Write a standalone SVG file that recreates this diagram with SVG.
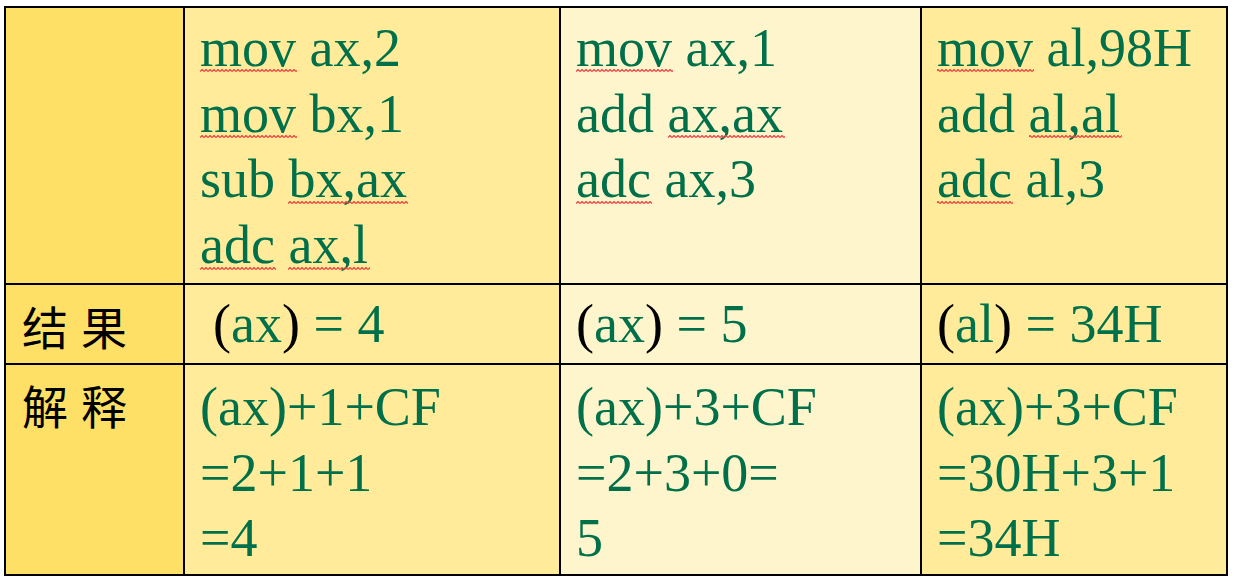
<svg xmlns="http://www.w3.org/2000/svg" width="1234" height="582" viewBox="0 0 1234 582">
<style>
.code{font-family:"Liberation Serif","Times New Roman",serif;font-size:54px;fill:#00704A}
.blk{fill:#000}
.cjk{font-family:"Noto Sans CJK SC","Noto Sans CJK JP",sans-serif;font-size:46px;fill:#000;letter-spacing:13px}
.grid{stroke:#000;stroke-width:2;fill:none}
.wv{fill:url(#wave)}
</style>
<defs>
<pattern id="wave" width="4" height="3" patternUnits="userSpaceOnUse">
<path d="M0,2.5 L2,0.5 L4,2.5" fill="none" stroke="#F03A40" stroke-width="1.2"/>
</pattern>
</defs>
<rect width="1234" height="582" fill="#fff"/>
<g id="cells">
<rect x="5" y="7" width="179" height="569" fill="#FFE066"/>
<rect x="184" y="7" width="376" height="569" fill="#FFEB99"/>
<rect x="560" y="7" width="361" height="569" fill="#FFF5CC"/>
<rect x="921" y="7" width="307" height="569" fill="#FFEB99"/>
</g>
<g id="grid">
<rect class="grid" x="5" y="7" width="1222" height="568" stroke-width="3"/>
<line class="grid" x1="184" y1="7" x2="184" y2="575"/>
<line class="grid" x1="560" y1="7" x2="560" y2="575"/>
<line class="grid" x1="921" y1="7" x2="921" y2="575"/>
<line class="grid" x1="5" y1="284" x2="1227" y2="284"/>
<line class="grid" x1="5" y1="364" x2="1227" y2="364"/>
</g>
<g id="labels">
<text class="cjk" x="22" y="345">结果</text>
<text class="cjk" x="22" y="424">解释</text>
</g>
<g id="col2">
<text class="code" x="200" y="66">mov ax,2</text>
<text class="code" x="200" y="132">mov bx,1</text>
<text class="code" x="200" y="197">sub bx,ax</text>
<text class="code" x="200" y="263">adc ax,l</text>
<text class="code" x="213" y="342"><tspan class="blk">(</tspan>ax<tspan class="blk">)</tspan> = 4</text>
<text class="code" x="200" y="425">(ax)+1+CF</text>
<text class="code" x="200" y="491">=2+1+1</text>
<text class="code" x="200" y="556">=4</text>
</g>
<g id="col3">
<text class="code" x="576" y="66">mov ax,1</text>
<text class="code" x="576" y="132">add ax,ax</text>
<text class="code" x="576" y="197">adc ax,3</text>
<text class="code" x="576" y="342"><tspan class="blk">(</tspan>ax<tspan class="blk">)</tspan> = 5</text>
<text class="code" x="576" y="425">(ax)+3+CF</text>
<text class="code" x="576" y="491">=2+3+0=</text>
<text class="code" x="576" y="556">5</text>
</g>
<g id="col4">
<text class="code" x="937" y="66">mov al,98H</text>
<text class="code" x="937" y="132">add al,al</text>
<text class="code" x="937" y="197">adc al,3</text>
<text class="code" x="937" y="342"><tspan class="blk">(</tspan>al<tspan class="blk">)</tspan> = 34H</text>
<text class="code" x="937" y="425">(ax)+3+CF</text>
<text class="code" x="937" y="491">=30H+3+1</text>
<text class="code" x="937" y="556">=34H</text>
</g>
<g id="spell">
<rect class="wv" x="200" y="69" width="97" height="3"/>
<rect class="wv" x="200" y="135" width="97" height="3"/>
<rect class="wv" x="288" y="201" width="120" height="3"/>
<rect class="wv" x="200" y="267" width="76" height="3"/>
<rect class="wv" x="288" y="267" width="82" height="3"/>
<rect class="wv" x="576" y="69" width="97" height="3"/>
<rect class="wv" x="668" y="135" width="117" height="3"/>
<rect class="wv" x="576" y="201" width="76" height="3"/>
<rect class="wv" x="937" y="69" width="97" height="3"/>
<rect class="wv" x="1029" y="135" width="93" height="3"/>
<rect class="wv" x="937" y="201" width="76" height="3"/>
</g>
</svg>
